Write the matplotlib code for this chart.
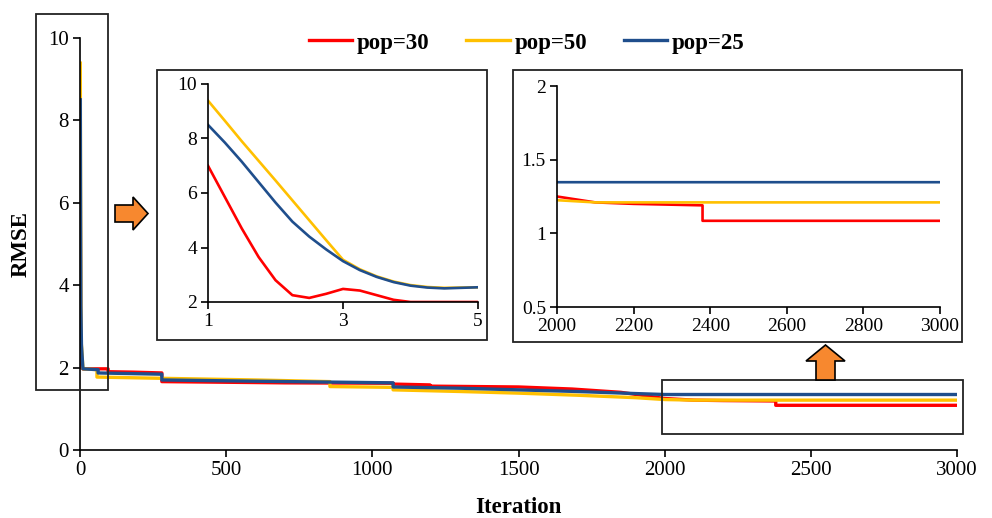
import matplotlib
matplotlib.use("Agg")
import matplotlib.pyplot as plt
from matplotlib.patches import Rectangle, Polygon

plt.rcParams["font.family"] = ["Liberation Serif", "DejaVu Serif"]

# ---------------------------------------------------------------------------
# data
# ---------------------------------------------------------------------------
series_names = ["pop=30", "pop=50", "pop=25"]
colors = ["#FF0000", "#FFC000", "#1F4E8C"]

# main plot (iteration, RMSE); a repeated iteration marks a sudden drop
it_30 = [1, 2, 3, 4, 10, 96, 96, 180, 280, 280, 700, 1071, 1071, 1197, 1197,
         1500, 1683, 1850, 1950, 2000, 2050, 2100, 2200, 2380, 2380, 3000]
rmse_30 = [7.0, 2.85, 2.48, 2.0, 1.97, 1.97, 1.90, 1.89, 1.87, 1.66, 1.63,
           1.62, 1.60, 1.58, 1.55, 1.53, 1.48, 1.40, 1.30, 1.25, 1.23, 1.21,
           1.20, 1.19, 1.085, 1.085]

it_50 = [1, 2, 3, 4, 5, 10, 58, 58, 280, 600, 855, 855, 1071, 1071, 1300,
         1500, 1700, 1900, 2000, 2100, 3000]
rmse_50 = [9.39, 6.46, 3.55, 2.62, 2.54, 1.97, 1.95, 1.77, 1.74, 1.70, 1.66,
           1.54, 1.52, 1.46, 1.42, 1.38, 1.33, 1.27, 1.225, 1.21, 1.21]

it_25 = [1, 2, 3, 5, 10, 62, 62, 280, 280, 600, 1071, 1071, 1300, 1500, 1700,
         1900, 2000, 3000]
rmse_25 = [8.5, 5.5, 3.5, 2.54, 1.97, 1.95, 1.87, 1.84, 1.70, 1.67, 1.63,
           1.53, 1.50, 1.46, 1.42, 1.37, 1.347, 1.347]

# first inset: iterations 1..5
zoom_x = [1, 1.25, 1.5, 1.75, 2, 2.25, 2.5, 2.75, 3, 3.25, 3.5, 3.75, 4, 4.25,
          4.5, 4.75, 5]
zoom_30 = [7.0, 5.85, 4.7, 3.65, 2.8, 2.25, 2.15, 2.3, 2.48, 2.42, 2.25, 2.08,
           2.0, 2.0, 2.0, 2.0, 2.0]
zoom_50 = [9.39, 8.65, 7.9, 7.18, 6.46, 5.73, 5.0, 4.27, 3.55, 3.2, 2.94, 2.75,
           2.62, 2.55, 2.52, 2.53, 2.54]
zoom_25 = [8.5, 7.85, 7.15, 6.4, 5.65, 4.95, 4.4, 3.93, 3.5, 3.17, 2.92, 2.73,
           2.6, 2.53, 2.5, 2.52, 2.54]

main_iters = [it_30, it_50, it_25]
main_rmse = [rmse_30, rmse_50, rmse_25]
zoom_vals = [zoom_30, zoom_50, zoom_25]

W, H = 992, 518
ORANGE = "#F7882F"


def fig_box(x0, y0, x1, y1):
    # pixel box (top-left origin) -> figure fraction rect
    return [x0 / W, 1 - y1 / H, (x1 - x0) / W, (y1 - y0) / H]


def frame(x0, y0, x1, y1):
    r = fig_box(x0, y0, x1, y1)
    fig.add_artist(Rectangle(r[:2], r[2], r[3], transform=fig.transFigure,
                             fill=False, ec="#222222", lw=1.3))


def style_axes(ax, fs):
    for s in ["top", "right"]:
        ax.spines[s].set_visible(False)
    for s in ["left", "bottom"]:
        ax.spines[s].set_linewidth(1.2)
    ax.tick_params(direction="out", length=5, width=1.2, labelsize=fs, pad=3)
    ax.set_facecolor("none")


fig = plt.figure(figsize=(W / 100, H / 100), dpi=100)

# ---------------------------------------------------------------------------
# main plot
# ---------------------------------------------------------------------------
ax = fig.add_axes(fig_box(80, 38, 957, 450))
for xs, ys, c, n in zip(main_iters, main_rmse, colors, series_names):
    ax.plot(xs, ys, color=c, lw=2.4, label=n)
ax.set_xlim(0, 3000)
ax.set_ylim(0, 10)
ax.set_xticks(range(0, 3001, 500))
ax.set_yticks(range(0, 11, 2))
style_axes(ax, 15)
ax.set_xlabel("Iteration", fontsize=16.5, fontweight="bold", labelpad=12)
ax.set_ylabel("RMSE", fontsize=16.5, fontweight="bold", labelpad=12)

fig.legend(loc="center", bbox_to_anchor=(0.531, 0.917), ncol=3, frameon=False,
           prop={"weight": "bold", "size": 16.5}, handlelength=1.9,
           handletextpad=0.2, columnspacing=1.6)

# ---------------------------------------------------------------------------
# inset 1: first iterations
# ---------------------------------------------------------------------------
frame(157, 70, 487, 340)
ax1 = fig.add_axes(fig_box(208, 84, 478, 302))
for ys, c in zip(zoom_vals, colors):
    ax1.plot(zoom_x, ys, color=c, lw=1.9)
ax1.set_xlim(1, 5)
ax1.set_ylim(2, 10)
ax1.set_xticks([1, 3, 5])
ax1.set_yticks(range(2, 11, 2))
style_axes(ax1, 14)

# ---------------------------------------------------------------------------
# inset 2: iterations 2000-3000
# ---------------------------------------------------------------------------
frame(513, 70, 962, 342)
ax2 = fig.add_axes(fig_box(557, 86, 940, 307))
for xs, ys, c in zip(main_iters, main_rmse, colors):
    ax2.plot(xs, ys, color=c, lw=1.9)
ax2.set_xlim(2000, 3000)
ax2.set_ylim(0.5, 2)
ax2.set_xticks(range(2000, 3001, 200))
ax2.set_yticks([0.5, 1, 1.5, 2])
ax2.set_yticklabels(["0.5", "1", "1.5", "2"])
style_axes(ax2, 14)

# ---------------------------------------------------------------------------
# zoom markers and arrows
# ---------------------------------------------------------------------------
frame(36, 14, 108, 390)
frame(662, 380, 963, 434)


def pix_poly(pts):
    return [(x / W, 1 - y / H) for x, y in pts]


right_arrow = [(115, 205), (133, 205), (133, 197), (148, 213.5), (133, 230),
               (133, 222), (115, 222)]
up_arrow = [(816, 380), (816, 361), (806, 361), (825.5, 345), (845, 361),
            (835, 361), (835, 380)]
for pts in [right_arrow, up_arrow]:
    fig.add_artist(Polygon(pix_poly(pts), closed=True, transform=fig.transFigure,
                           fc=ORANGE, ec="black", lw=1.2))

fig.savefig("out.png", dpi=100)
